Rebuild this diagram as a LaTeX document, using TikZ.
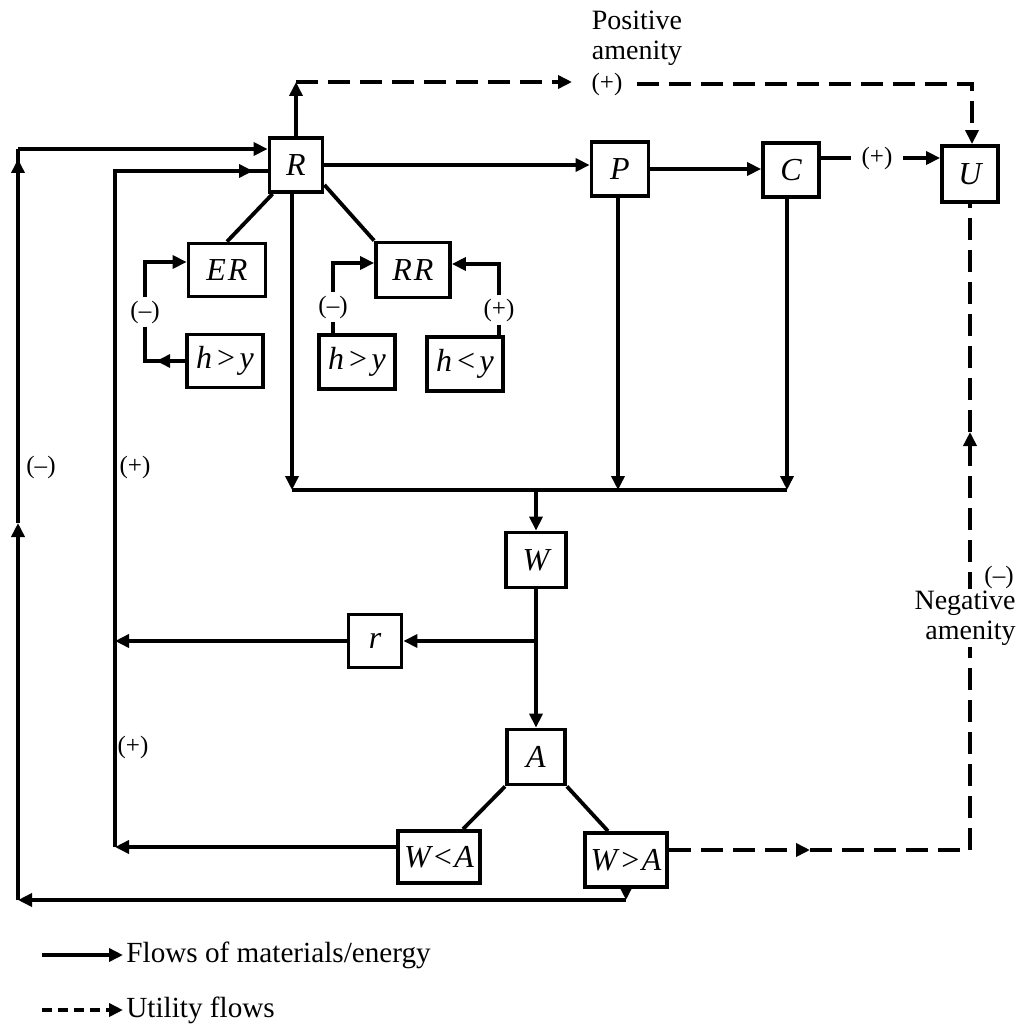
\documentclass[tikz,border=0pt]{standalone}
\usepackage{fontspec}
\setmainfont{Liberation Serif}
\usetikzlibrary{arrows.meta,calc}
\begin{document}
\begin{tikzpicture}[x=0.5pt,y=-0.5pt,
  ln/.style={line width=1.9pt},
  arr/.style={line width=1.9pt,-{Triangle[length=7pt,width=6.5pt]}},
  dsh/.style={dash pattern=on 11pt off 5pt},
  box/.style={draw,line width=1.9pt,inner sep=0pt,font=\fontsize{16}{18}\selectfont\itshape},
  lbl/.style={font=\fontsize{12.5}{14}\selectfont,inner sep=1.5pt},
  txt/.style={font=\fontsize{14}{15}\selectfont}]
\useasboundingbox (0,0) rectangle (1022,1031);
\fill[white] (0,0) rectangle (1022,1031);

% boxes
\node[box,minimum width=26.5pt,minimum height=27pt] (R) at (296,165) {R};
\node[box,minimum width=28.5pt,minimum height=27pt] (P) at (620,169) {P};
\node[box,minimum width=28pt,minimum height=27pt] (C) at (791,170) {C};
\node[box,minimum width=28pt,minimum height=28pt] (U) at (970,174) {U};
\node[box,minimum width=38.5pt,minimum height=26.5pt] (ER) at (227,270) {E\kern1pt R};
\node[box,minimum width=38pt,minimum height=26.5pt] (hy1) at (225,361) {h\kern1.5pt>\kern1.5pt y};
\node[box,minimum width=37pt,minimum height=27.5pt] (RR) at (413,270) {R\kern1pt R};
\node[box,minimum width=38pt,minimum height=27pt] (hy2) at (357,362) {h\kern1.5pt>\kern1.5pt y};
\node[box,minimum width=38pt,minimum height=27pt] (hly) at (465,364) {h\kern1.5pt<\kern1.5pt y};
\node[box,minimum width=30pt,minimum height=27.5pt] (W) at (536,560) {W};
\node[box,minimum width=26.5pt,minimum height=26.5pt] (r) at (375,641) {r};
\node[box,minimum width=29pt,minimum height=27.5pt] (A) at (536,757) {A};
\node[box,minimum width=41pt,minimum height=26pt] (WlA) at (439,857) {W\kern0.5pt<\kern0.5pt A};
\node[box,minimum width=41pt,minimum height=27pt] (WgA) at (626,860) {W\kern1pt>\kern0.5pt A};

% main flow
\draw[arr] (R.east) -- (R.east -| P.west);
\draw[arr] (P.east) -- (P.east -| C.west);
\node[lbl,inner sep=5pt] (cu) at (877,158) {(+)};
\draw[ln] ([yshift=6pt]C.east) -- (cu.west);
\draw[arr] (cu.east) -- (cu.east -| U.west);

% positive amenity
\coordinate (t1) at (296,82);
\coordinate (t2) at (572,82);
\coordinate (t3) at (637,84);
\coordinate (t4) at (972,84);
\draw[arr] (R.north) -- (t1);
\draw[arr,dsh] (t1) -- (t2);
\node[lbl] (pl) at (607,84) {(+)};
\draw[arr,dsh] (t3) -- (t4) -- (U.north -| t4);
\node[txt,align=center] (pa) at (637,38) {Positive\\amenity};

% R to ER / RR
\draw[ln] ([xshift=2.5pt]R.south west) -- (ER.north);
\draw[ln] ([yshift=4.5pt]R.south east) -- (RR.north west);

% ER feedback
\node[lbl] (m1) at (145,312) {(–)};
\draw[arr] (m1.north) |- ([yshift=4pt]ER.west);
\coordinate (e1) at (m1.south |- hy1.west);
\draw[ln] (m1.south) -- (e1) -- (hy1.west);
\draw[arr] (hy1.west) -- ($(e1)!0.28!(hy1.west)$);

% RR feedback
\node[lbl] (m2) at (333,307) {(–)};
\draw[ln] (m2.south) -- (m2.south |- hy2.north);
\draw[arr] (m2.north) |- ([yshift=3.5pt]RR.west);
\node[lbl] (m3) at (499,310) {(+)};
\draw[ln] (m3.south) -- (m3.south |- hly.north);
\draw[arr] (m3.north) |- ([yshift=3pt]RR.east);

% bus to W
\coordinate (b1) at (292,490);
\coordinate (bp) at (618,490);
\coordinate (bc) at (787,490);
\draw[arr] (R.south -| b1) -- (b1);
\draw[arr] (P.south -| bp) -- (bp);
\draw[arr] (C.south -| bc) -- (bc);
\draw[ln] (b1) -- (bc);
\draw[arr] (W.north |- b1) -- (W.north);

% W to A and r
\draw[arr] (W.south) -- (A.north);
\draw[arr] (W.south |- r.east) -- (r.east);

% A branches
\draw[ln] (A.south west) -- ([xshift=12pt]WlA.north);
\draw[ln] (A.south east) -- ([xshift=-9pt]WgA.north);

% outer loop (-)
\coordinate (o1) at (626,900);
\coordinate (o2) at (18,900);
\coordinate (o3) at (18,523);
\coordinate (o4a) at (18,159);
\coordinate (o4) at (18,149);
\draw[arr] (WgA.south) -- (o1);
\draw[arr] (o1) -- (o2);
\draw[arr] (o2) -- (o3);
\draw[ln] (o3) -- (o4);
\draw[arr] (o3) -- (o4a);
\draw[arr] (o4) -- (o4 -| R.west);

% inner loop (+)
\coordinate (i1) at (115,847);
\coordinate (i2) at (115,171);
\coordinate (i3) at (253,171);
\draw[arr] ([yshift=5pt]WlA.west) -- (i1);
\draw[arr] (r.west) -- (r.west -| i1);
\draw[ln] (i1) -- (i2) -- (i2 -| R.west);
\draw[arr] (i2) -- (i3);

\node[lbl] (lm) at (41,467) {(–)};
\node[lbl] (lp1) at (135,467) {(+)};
\node[lbl] (lp2) at (133,747) {(+)};

% negative amenity
\coordinate (n0) at (810,850);
\coordinate (n1) at (970,850);
\coordinate (n2) at (970,432);
\draw[arr,dsh] ([yshift=5pt]WgA.east) -- (n0);
\draw[ln,dsh] (n0) -- (n1);
\draw[arr,dsh] (n1) -- (n2);
\draw[ln,dsh] (n2) -- (U.south);
\node[lbl,anchor=east] (nm) at (1017,577) {(–)};
\node[txt,align=right,anchor=east,fill=white,inner sep=1pt] (na) at (1018,618) {Negative\\amenity};

% legend
\coordinate (l1) at (42,955);
\coordinate (l2) at (123,955);
\coordinate (l3) at (42,1010);
\coordinate (l4) at (123,1010);
\draw[arr] (l1) -- (l2);
\node[txt,font=\fontsize{14.6}{16}\selectfont,anchor=west,inner sep=1.5pt] (lt1) at (l2) {Flows of materials/energy};
\draw[arr,dash pattern=on 5pt off 3pt] (l3) -- (l4);
\node[txt,font=\fontsize{14.6}{16}\selectfont,anchor=west,inner sep=1.5pt] (lt2) at (l4) {Utility flows};
\end{tikzpicture}
\end{document}
